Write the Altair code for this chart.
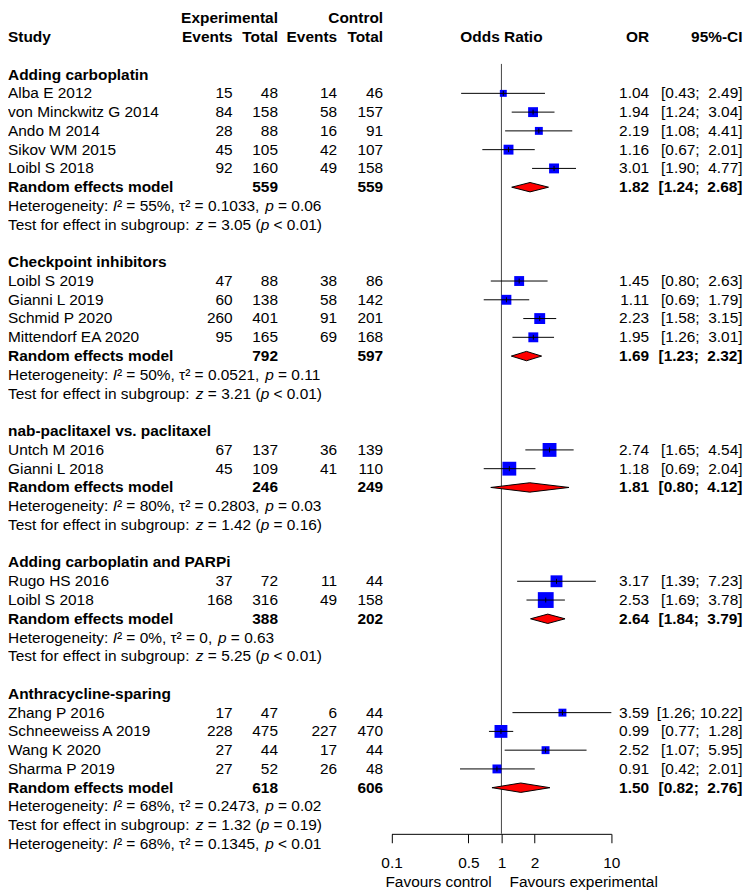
import altair as alt
import pandas as pd

# ---------------- data ----------------
group_names = ["Adding carboplatin", "Checkpoint inhibitors", "nab-paclitaxel vs. paclitaxel",
               "Adding carboplatin and PARPi", "Anthracycline-sparing"]

study_names = ["Alba E 2012", "von Minckwitz G 2014", "Ando M 2014", "Sikov WM 2015", "Loibl S 2018",
               "Loibl S 2019", "Gianni L 2019", "Schmid P 2020", "Mittendorf EA 2020",
               "Untch M 2016", "Gianni L 2018",
               "Rugo HS 2016", "Loibl S 2018",
               "Zhang P 2016", "Schneeweiss A 2019", "Wang K 2020", "Sharma P 2019"]
study_group = [0, 0, 0, 0, 0, 1, 1, 1, 1, 2, 2, 3, 3, 4, 4, 4, 4]
exp_events = [15, 84, 28, 45, 92, 47, 60, 260, 95, 67, 45, 37, 168, 17, 228, 27, 27]
exp_total = [48, 158, 88, 105, 160, 88, 138, 401, 165, 137, 109, 72, 316, 47, 475, 44, 52]
ctl_events = [14, 58, 16, 42, 49, 38, 58, 91, 69, 36, 41, 11, 49, 6, 227, 17, 26]
ctl_total = [46, 157, 91, 107, 158, 86, 142, 201, 168, 139, 110, 44, 158, 44, 470, 44, 48]
odds_ratio = [1.04, 1.94, 2.19, 1.16, 3.01, 1.45, 1.11, 2.23, 1.95, 2.74, 1.18, 3.17, 2.53,
              3.59, 0.99, 2.52, 0.91]
ci_lower = [0.43, 1.24, 1.08, 0.67, 1.90, 0.80, 0.69, 1.58, 1.26, 1.65, 0.69, 1.39, 1.69,
            1.26, 0.77, 1.07, 0.42]
ci_upper = [2.49, 3.04, 4.41, 2.01, 4.77, 2.63, 1.79, 3.15, 3.01, 4.54, 2.04, 7.23, 3.78,
            10.22, 1.28, 5.95, 2.01]
study_weight = [49, 100, 64, 100, 100, 100, 100, 121, 100, 196, 196, 144, 256, 64, 169, 64, 81]

rem_exp_total = [559, 792, 246, 388, 618]
rem_ctl_total = [559, 597, 249, 202, 606]
rem_or = [1.82, 1.69, 1.81, 2.64, 1.50]
rem_lower = [1.24, 1.23, 0.80, 1.84, 0.82]
rem_upper = [2.68, 2.32, 4.12, 3.79, 2.76]
het_i2 = ["55%", "50%", "80%", "0%", "68%"]
het_tau2 = ["0.1033", "0.0521", "0.2803", "0", "0.2473"]
het_p = ["= 0.06", "= 0.11", "= 0.03", "= 0.63", "= 0.02"]
test_z = ["3.05", "3.21", "1.42", "5.25", "1.32"]
test_p = ["< 0.01", "< 0.01", "= 0.16", "< 0.01", "= 0.19"]
overall_het = ["68%", "0.1345", "< 0.01"]

axis_ticks = [0.1, 0.5, 1, 2, 10]
axis_domain = [0.1, 10]

# ---------------- layout ----------------
FONT = "Liberation Sans"
FS = 15.6
W, H = 744, 830
X_LO, X_HI = 387.7, 609.9          # pixel range of the log axis
X_ONE = (X_LO + X_HI) / 2
Y0, DY = 62.5, 18.97
STUDY_X, EXP_EV, EXP_TOT, CTL_EV, CTL_TOT, OR_X, CI_X = 0, 227.1, 272.9, 332.7, 379.2, 648.1, 742.5

# Arial / Liberation Sans advance widths (1/1000 em) used to place italic pieces
ADV = {" ": 278, "%": 889, "(": 333, ")": 333, ",": 278, "-": 333, ".": 278, ":": 278,
       "<": 584, "=": 584, "H": 722, "I": 278, "T": 611, "a": 556, "b": 556, "c": 500,
       "d": 556, "e": 556, "f": 278, "g": 556, "h": 556, "i": 222, "l": 222, "m": 833,
       "n": 556, "o": 556, "p": 556, "r": 333, "s": 500, "t": 278, "u": 556, "y": 500,
       "z": 500, "²": 333, "τ": 490}


def tw(s):
    return sum(ADV.get(c, 556) for c in s) * FS / 1000.0


def fmt_ci(lo, hi):
    h = f"{hi:.2f}"
    pad = "\u00a0" * (5 - len(h))
    return f"[{lo:.2f}; {pad}{h}]"


texts = []


def add(txt, row, px, align, bold, italic=False):
    texts.append({"txt": txt, "row": row, "px": px, "align": align, "bold": bold, "italic": italic})


def add_pieces(pieces, row):
    x = STUDY_X
    for s, it in pieces:
        stripped = s.lstrip(" ")
        lead = s[: len(s) - len(stripped)]
        x += tw(lead)
        add(stripped.rstrip(" "), row, x, "left", False, it)
        x += tw(stripped)


def het_line(i2, tau2, p, row):
    add_pieces([("Heterogeneity: ", False), ("I", True), (f"² = {i2}, τ² = {tau2}, ", False),
                ("p", True), (f" {p}", False)], row)


def test_line(z, p, row):
    add_pieces([("Test for effect in subgroup: ", False), ("z", True), (f" = {z} (", False),
                ("p", True), (f" {p})", False)], row)


# header
add("Experimental", -3, EXP_TOT, "right", True)
add("Control", -3, CTL_TOT, "right", True)
add("Study", -2, STUDY_X, "left", True)
add("Events", -2, EXP_EV, "right", True)
add("Total", -2, EXP_TOT, "right", True)
add("Events", -2, CTL_EV, "right", True)
add("Total", -2, CTL_TOT, "right", True)
add("Odds Ratio", -2, X_ONE, "center", True)
add("OR", -2, OR_X, "right", True)
add("95%-CI", -2, CI_X, "right", True)

study_rows = []
diamond_rows = []
r = 0
for g, gname in enumerate(group_names):
    add(gname, r, STUDY_X, "left", True)
    r += 1
    for i, name in enumerate(study_names):
        if study_group[i] != g:
            continue
        add(name, r, STUDY_X, "left", False)
        add(str(exp_events[i]), r, EXP_EV, "right", False)
        add(str(exp_total[i]), r, EXP_TOT, "right", False)
        add(str(ctl_events[i]), r, CTL_EV, "right", False)
        add(str(ctl_total[i]), r, CTL_TOT, "right", False)
        add(f"{odds_ratio[i]:.2f}", r, OR_X, "right", False)
        add(fmt_ci(ci_lower[i], ci_upper[i]), r, CI_X, "right", False)
        study_rows.append({"row": r, "est": odds_ratio[i], "lo": ci_lower[i],
                           "hi": min(ci_upper[i], axis_domain[1]), "w": study_weight[i]})
        r += 1
    add("Random effects model", r, STUDY_X, "left", True)
    add(str(rem_exp_total[g]), r, EXP_TOT, "right", True)
    add(str(rem_ctl_total[g]), r, CTL_TOT, "right", True)
    add(f"{rem_or[g]:.2f}", r, OR_X, "right", True)
    add(fmt_ci(rem_lower[g], rem_upper[g]), r, CI_X, "right", True)
    hh = 0.25
    diamond_rows += [
        {"g": g, "x": rem_lower[g], "ya": r, "yb": r},
        {"g": g, "x": rem_or[g], "ya": r - hh, "yb": r + hh},
        {"g": g, "x": rem_upper[g], "ya": r, "yb": r},
    ]
    r += 1
    het_line(het_i2[g], het_tau2[g], het_p[g], r)
    r += 1
    test_line(test_z[g], test_p[g], r)
    r += 1
    if g < len(group_names) - 1:
        r += 1
het_line(overall_het[0], overall_het[1], overall_het[2], r)
LAST_ROW = r

tdf = pd.DataFrame(texts)
sdf = pd.DataFrame(study_rows)
ddf = pd.DataFrame(diamond_rows)

xs = alt.Scale(type="log", domain=axis_domain, range=[X_LO, X_HI])
ys = alt.Scale(domain=[0, LAST_ROW], range=[Y0, Y0 + LAST_ROW * DY])
XAX = alt.Axis(values=axis_ticks, format="~g", title=None, grid=False, domainColor="black",
               tickColor="black", tickSize=9, domainWidth=1, tickWidth=1, labelFont=FONT,
               labelFontSize=FS, labelColor="black", labelPadding=13, labelFlush=False,
               labelOverlap=False)
Y = lambda f: alt.Y(f, scale=ys, axis=None)

ref = alt.Chart(pd.DataFrame({"v": [1.0]})).mark_rule(color="#444", strokeWidth=1).encode(
    x=alt.X("v:Q", scale=xs, axis=XAX), y=alt.value(51.7), y2=alt.value(H))

squares = alt.Chart(sdf).mark_square(color="#0000FF", opacity=1).encode(
    x=alt.X("est:Q", scale=xs, axis=XAX), y=Y("row:Q"),
    size=alt.Size("w:Q", scale=None, legend=None))

ci = alt.Chart(sdf).mark_rule(color="black", strokeWidth=1).encode(
    x=alt.X("lo:Q", scale=xs, axis=XAX), x2="hi:Q", y=Y("row:Q"))

cross = alt.Chart(sdf).mark_point(shape="M0,-1L0,1", filled=False, color="black",
                                  strokeWidth=1, size=25, opacity=1).encode(
    x=alt.X("est:Q", scale=xs, axis=XAX), y=Y("row:Q"))

diamonds = alt.Chart(ddf).mark_area(color="#FF0000", stroke="black", strokeWidth=1,
                                    opacity=1, fillOpacity=1, orient="vertical").encode(
    x=alt.X("x:Q", scale=xs, axis=XAX), y=Y("ya:Q"), y2="yb:Q", detail="g:N")


def text_layer(align, bold, italic):
    sub = tdf[(tdf["align"] == align) & (tdf["bold"] == bold) & (tdf["italic"] == italic)]
    return alt.Chart(sub).mark_text(align=align, baseline="middle", font=FONT, fontSize=FS,
                                    fontWeight="bold" if bold else "normal",
                                    fontStyle="italic" if italic else "normal",
                                    color="black").encode(
        x=alt.X("px:Q", scale=None), y=Y("row:Q"), text="txt:N")


text_layers = [text_layer(a, b, it) for a, b, it in
               [("left", False, False), ("left", False, True), ("left", True, False),
                ("right", False, False), ("right", True, False), ("center", True, False)]]

fav = pd.DataFrame({"txt": ["Favours control", "Favours experimental"],
                    "px": [X_ONE - 9.8, X_ONE + 8.2], "py": [878.5, 878.5]})
fav_left = alt.Chart(fav.iloc[[0]]).mark_text(align="right", baseline="middle", font=FONT,
                                              fontSize=FS, color="black").encode(
    x=alt.X("px:Q", scale=None), y=alt.Y("py:Q", scale=None), text="txt:N")
fav_right = alt.Chart(fav.iloc[[1]]).mark_text(align="left", baseline="middle", font=FONT,
                                               fontSize=FS, color="black").encode(
    x=alt.X("px:Q", scale=None), y=alt.Y("py:Q", scale=None), text="txt:N")

chart = alt.layer(ref, squares, ci, cross, diamonds, *text_layers, fav_left, fav_right).properties(
    width=W, height=H, autosize=alt.AutoSizeParams(type="none"),
    padding={"left": 0, "top": 0, "right": 0, "bottom": 56},
).configure_view(stroke=None)

chart.save("out.html", embed_options={"renderer": "svg", "actions": False})
